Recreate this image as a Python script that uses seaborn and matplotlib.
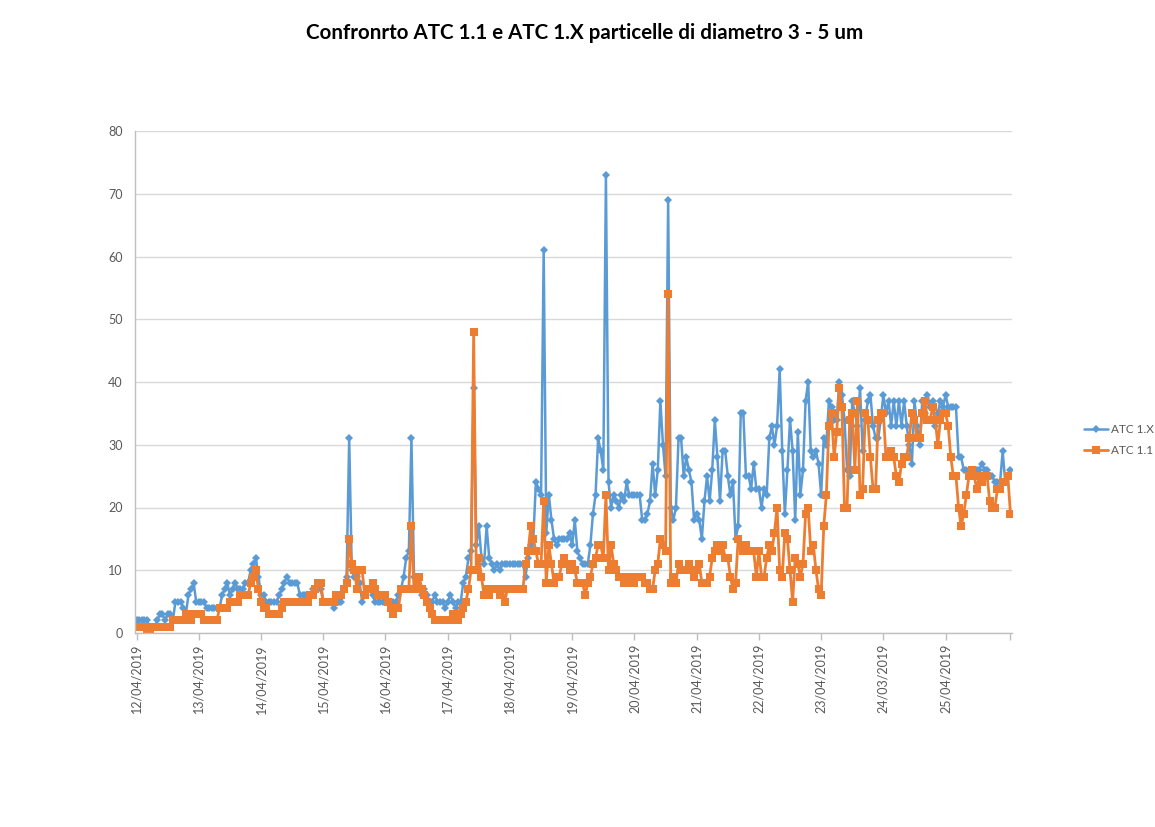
import matplotlib
matplotlib.use("Agg")
import matplotlib.pyplot as plt
import numpy as np
import pandas as pd
import seaborn as sns

# Hourly particle counts (3 - 5 um), one row per day
atc_1x = [
    2, 2, 2, 2, 2, 1, 1, 1, 2, 3, 3, 2, 3, 3, 2, 5, 5, 5, 4, 3, 6, 7, 8, 5,
    5, 5, 5, 4, 4, 4, 4, 4, 4, 6, 7, 8, 6, 7, 8, 7, 7, 7, 8, 8, 10, 11, 12, 9,
    6, 6, 5, 5, 5, 5, 5, 6, 7, 8, 9, 8, 8, 8, 8, 6, 6, 6, 6, 6, 7, 7, 7, 7,
    5, 5, 5, 5, 4, 5, 5, 5, 7, 9, 31, 10, 9, 9, 8, 5, 6, 7, 7, 6, 5, 5, 5, 5,
    5, 5, 4, 5, 5, 6, 7, 9, 12, 13, 31, 9, 7, 7, 6, 7, 6, 5, 5, 6, 5, 5, 5, 4,
    5, 6, 5, 4, 5, 5, 8, 9, 12, 13, 39, 14, 17, 12, 11, 17, 12, 11, 10, 11, 10, 11, 11, 11,
    11, 11, 11, 11, 11, 11, 9, 12, 14, 15, 24, 23, 22, 61, 16, 22, 18, 15, 14, 15, 15, 15, 15, 16,
    14, 18, 13, 12, 11, 11, 11, 14, 19, 22, 31, 29, 26, 73, 24, 20, 22, 21, 20, 22, 21, 24, 22, 22,
    22, 22, 22, 18, 18, 19, 21, 27, 22, 26, 37, 30, 25, 69, 20, 18, 20, 31, 31, 25, 28, 26, 24, 18,
    19, 18, 15, 21, 25, 21, 26, 34, 28, 21, 29, 29, 25, 22, 24, 15, 17, 35, 35, 25, 25, 23, 27, 23,
    23, 20, 23, 22, 31, 33, 30, 33, 42, 29, 19, 26, 34, 29, 18, 32, 22, 26, 37, 40, 29, 28, 29, 27,
    22, 31, 30, 37, 36, 34, 34, 40, 38, 34, 26, 25, 37, 35, 33, 39, 29, 34, 37, 38, 33, 31, 31, 34,
    38, 35, 37, 33, 37, 33, 37, 33, 37, 33, 30, 27, 37, 33, 30, 37, 35, 38, 36, 37, 33, 35, 37, 36,
    38, 36, 36, 36, 36, 28, 28, 26, 26, 26, 26, 25, 26, 26, 27, 26, 26, 25, 25, 24, 24, 24, 29, 24, 25, 26,
]

atc_11 = [
    1, 1, 1, 1, 0, 0, 1, 1, 1, 1, 1, 1, 1, 1, 2, 2, 2, 2, 2, 3, 3, 2, 3, 3,
    3, 3, 2, 2, 2, 2, 2, 2, 4, 4, 4, 4, 5, 5, 5, 5, 6, 6, 6, 6, 8, 9, 10, 7,
    5, 4, 4, 3, 3, 3, 3, 3, 4, 5, 5, 5, 5, 5, 5, 5, 5, 5, 5, 6, 6, 7, 8, 8,
    5, 5, 5, 5, 5, 6, 6, 6, 7, 8, 15, 11, 10, 7, 10, 10, 6, 7, 7, 8, 7, 6, 6, 6,
    6, 5, 4, 3, 4, 4, 7, 7, 7, 7, 17, 7, 8, 9, 7, 6, 5, 4, 3, 2, 2, 2, 2, 2,
    2, 2, 3, 2, 2, 3, 4, 5, 7, 10, 48, 10, 12, 9, 6, 7, 6, 7, 7, 7, 6, 7, 5, 7,
    7, 7, 7, 7, 7, 7, 11, 13, 17, 15, 13, 11, 11, 21, 8, 14, 11, 8, 9, 9, 11, 12, 11, 10,
    11, 10, 8, 8, 8, 6, 8, 9, 11, 12, 14, 14, 12, 22, 10, 14, 11, 10, 9, 9, 8, 8, 9, 8,
    8, 9, 9, 9, 8, 8, 7, 7, 10, 11, 15, 14, 13, 54, 8, 9, 8, 11, 10, 10, 10, 11, 10, 9,
    10, 11, 8, 8, 8, 9, 12, 13, 14, 13, 14, 12, 12, 9, 7, 8, 15, 14, 13, 14, 13, 13, 13, 9,
    13, 9, 9, 12, 14, 13, 16, 20, 10, 9, 16, 15, 10, 5, 12, 11, 9, 11, 19, 20, 13, 14, 10, 7,
    6, 17, 22, 33, 35, 28, 32, 39, 36, 20, 20, 34, 35, 26, 37, 22, 23, 35, 34, 28, 23, 23, 34, 35,
    35, 28, 28, 29, 28, 25, 24, 27, 28, 28, 31, 35, 34, 31, 31, 35, 37, 34, 34, 36, 34, 30, 34, 35,
    35, 33, 28, 25, 25, 20, 17, 19, 22, 25, 26, 25, 23, 25, 24, 25, 25, 21, 20, 20, 23, 23, 24, 24, 25, 19,
]

day_labels = [
    "12/04/2019", "13/04/2019", "14/04/2019", "15/04/2019", "16/04/2019",
    "17/04/2019", "18/04/2019", "19/04/2019", "20/04/2019", "21/04/2019",
    "22/04/2019", "23/04/2019", "24/03/2019", "25/04/2019",
]

series_names = ["ATC 1.X", "ATC 1.1"]
y_ticks = [0, 10, 20, 30, 40, 50, 60, 70, 80]

hours = np.arange(len(atc_1x))
df_x = pd.DataFrame({"ora": hours, "valore": atc_1x})
df_1 = pd.DataFrame({"ora": hours, "valore": atc_11})

sns.set_theme(style="white")
plt.rcParams["font.family"] = ["Lato", "DejaVu Sans"]

W, H = 1155, 827
fig = plt.figure(figsize=(W / 100, H / 100), dpi=100)
ax = fig.add_axes([135 / W, 1 - 633 / H, (1012 - 135) / W, (633 - 131) / H])

blue = "#5B9BD5"
orange = "#ED7D31"

sns.lineplot(data=df_x, x="ora", y="valore", ax=ax, color=blue, linewidth=1.8,
             marker="D", markersize=4.2, markeredgewidth=0, estimator=None,
             sort=False, label=series_names[0])
sns.lineplot(data=df_1, x="ora", y="valore", ax=ax, color=orange, linewidth=2.0,
             marker="s", markersize=5.2, markeredgewidth=0, estimator=None,
             sort=False, label=series_names[1])

ax.set_ylim(0, 80)
ax.set_xlim(-0.6, len(atc_1x) - 0.4)
ax.set_yticks(y_ticks)
ax.yaxis.grid(True, color="#D9D9D9", linewidth=1.0)
ax.xaxis.grid(False)
ax.set_axisbelow(True)

tick_pos = [24 * i for i in range(len(day_labels))]
ax.set_xticks(tick_pos)
ax.set_xticklabels(day_labels, rotation=90, fontsize=9, color="#595959")
ax.set_xticks([len(atc_1x) - 1], minor=True)
ax.tick_params(axis="x", which="both", direction="out", length=5, width=1,
               color="#BFBFBF", pad=3, bottom=True)
ax.tick_params(axis="y", length=0, labelsize=9, labelcolor="#595959", pad=9)

ax.set_xlabel("")
ax.set_ylabel("")
for side in ["top", "right"]:
    ax.spines[side].set_visible(False)
for side in ["left", "bottom"]:
    ax.spines[side].set_color("#BFBFBF")
    ax.spines[side].set_linewidth(1.0)

ax.legend_.remove()
handles, labels = ax.get_legend_handles_labels()
fig.legend(handles, labels, loc="center left",
           bbox_to_anchor=(1076 / W, 1 - 440 / H), frameon=False,
           fontsize=8.5, handlelength=2.0, handletextpad=0.25, labelspacing=0.9,
           borderpad=0.2, labelcolor="#595959")

fig.text(585 / W, 1 - 33 / H,
         "Confronrto ATC 1.1 e ATC 1.X particelle di diametro 3 - 5 um",
         ha="center", va="center", fontsize=14.8, fontweight="bold", color="#000000")

fig.savefig("out.png", dpi=100)
